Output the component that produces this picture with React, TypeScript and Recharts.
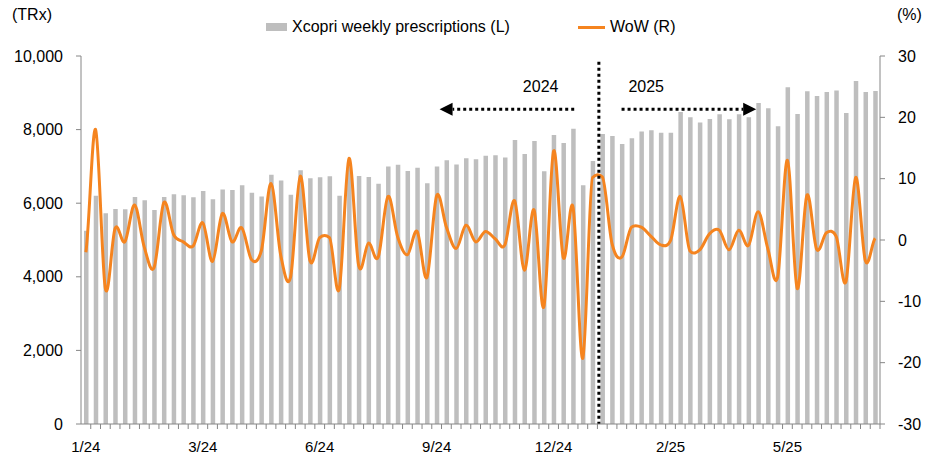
import { ComposedChart, Bar, Line, XAxis, YAxis, ReferenceLine, ReferenceDot } from 'recharts';

// weekly Xcopri TRx, 1/24 .. 7/25
const rx = [
  5250, 6205, 5725, 5840, 5835, 6170, 6080, 5815, 6170, 6240, 6215, 6160, 6330, 6105,
  6375, 6360, 6485, 6285, 6185, 6775, 6620, 6230, 6895, 6675, 6705, 6730, 6205, 7050,
  6740, 6710, 6530, 7000, 7045, 6875, 6965, 6540, 7000, 7165, 7055, 7220, 7195, 7290,
  7300, 7245, 7715, 7335, 7690, 6865, 7855, 7635, 8025, 6485, 7145, 7880, 7825, 7610,
  7765, 7945, 7980, 7915, 7915, 8480, 8335, 8195, 8290, 8415, 8280, 8415, 8335, 8725,
  8580, 8090, 9150, 8425, 9040, 8915, 9020, 9060, 8450, 9320, 9020, 9050,
];

// week over week change, %
const wow = [
  -2.0, 18.0, -7.9, 1.9, -0.3, 5.7, -1.2, -4.5, 6.1, 0.9, -0.3, -1.0, 2.8, -3.5,
  4.3, -0.3, 2.0, -3.2, -1.8, 9.2, -2.5, -6.1, 10.4, -3.4, 0.4, 0.4, -8.0, 13.3,
  -4.2, -0.5, -2.8, 7.1, 0.5, -2.4, 1.4, -6.1, 7.2, 2.1, -1.4, 2.4, -0.3, 1.4,
  0.2, -0.8, 6.4, -4.9, 4.9, -10.9, 14.5, -2.9, 5.3, -19.3, 10.2, 10.3, -0.6, -2.8,
  2.1, 2.1, 0.6, -0.8, -0.1, 7.1, -1.8, -1.6, 1.0, 1.6, -1.6, 1.6, -0.9, 4.6,
  -1.5, -6.0, 13.0, -7.9, 7.3, -1.5, 1.2, 0.6, -6.8, 10.2, -3.4, 0.3,
];

// one label every 12 weeks
const tickLabels = ['1/24', '3/24', '6/24', '9/24', '12/24', '2/25', '5/25'];
const leftTicks = [0, 2000, 4000, 6000, 8000, 10000];
const rightTicks = [-30, -20, -10, 0, 10, 20, 30];

const data = rx.map((v, i) => ({ week: i, rx: v, wow: wow[i] }));

const FONT = '"Liberation Sans", Arial, sans-serif';
const GREY = '#bebebe';
const ORANGE = '#f5841f';
const AXIS = '#868686';

// Excel-like smoothing: Catmull-Rom tangents, softly damped where one side is flat
function excelSmooth(context: any) {
  let pts: number[][] = [];
  return {
    areaStart() {},
    areaEnd() {},
    lineStart() {
      pts = [];
    },
    point(x: number, y: number) {
      pts.push([+x, +y]);
    },
    lineEnd() {
      const n = pts.length;
      if (!n) return;
      const m = pts.map((p, i) => {
        const a = pts[Math.max(i - 1, 0)];
        const b = pts[Math.min(i + 1, n - 1)];
        let t = (b[1] - a[1]) / 2;
        if (i > 0 && i < n - 1) {
          const lim = 3 * Math.min(Math.abs(p[1] - a[1]), Math.abs(b[1] - p[1])) + 8;
          if (Math.abs(t) > lim) t = Math.sign(t) * lim;
        }
        return t;
      });
      context.moveTo(pts[0][0], pts[0][1]);
      for (let i = 0; i < n - 1; i++) {
        const p1 = pts[i];
        const p2 = pts[i + 1];
        const h = (p2[0] - p1[0]) / 3;
        context.bezierCurveTo(p1[0] + h, p1[1] + m[i] / 3, p2[0] - h, p2[1] - m[i + 1] / 3, p2[0], p2[1]);
      }
    },
  };
}

const XTick = (props: any) => {
  const { x, y, payload } = props;
  const half = payload.offset ?? 4.87;
  const i = Number(payload.value);
  const label = i % 12 === 0 ? tickLabels[i / 12] : null;
  return (
    <g>
      <line x1={x + half} x2={x + half} y1={y} y2={y + 5} stroke={AXIS} strokeWidth={1} />
      {label && (
        <text x={x} y={y + 28} textAnchor="middle" fontSize={15} fontFamily={FONT} fill="#000">
          {label}
        </text>
      )}
    </g>
  );
};

const Arrow = (p: any) => {
  const { x1, y1, x2, y2 } = p;
  const dir = Math.sign(x2 - x1);
  const head = 13;
  return (
    <g>
      <line x1={x1} y1={y1} x2={x2 - dir * head} y2={y2} stroke="#000" strokeWidth={3} strokeDasharray="3 3" />
      <polygon
        points={`${x2},${y2} ${x2 - dir * head},${y2 - 6.5} ${x2 - dir * head},${y2 + 6.5}`}
        fill="#000"
      />
    </g>
  );
};

const yearText = (txt: string) => (p: any) => (
  <text x={p.cx} y={p.cy} textAnchor="middle" dominantBaseline="central" fontSize={16} fontFamily={FONT} fill="#000">
    {txt}
  </text>
);

export default function App() {
  return (
    <div style={{ position: 'absolute', left: 0, top: 0, width: 935, height: 462, fontFamily: FONT }}>
      <div style={{ position: 'absolute', left: 12, top: 6, fontSize: 16, lineHeight: '18px' }}>(TRx)</div>
      <div style={{ position: 'absolute', left: 897, top: 6, fontSize: 16, lineHeight: '18px' }}>(%)</div>
      <div style={{ position: 'absolute', left: 266, top: 23, width: 21, height: 8, background: GREY }} />
      <div style={{ position: 'absolute', left: 292, top: 18, fontSize: 16, lineHeight: '18px' }}>
        Xcopri weekly prescriptions (L)
      </div>
      <div style={{ position: 'absolute', left: 578, top: 26, width: 27, height: 3, background: ORANGE }} />
      <div style={{ position: 'absolute', left: 610, top: 18, fontSize: 16, lineHeight: '18px' }}>WoW (R)</div>

      <ComposedChart width={935} height={462} data={data} margin={{ top: 56, right: 0, bottom: 0, left: 0 }}>
        <XAxis
          dataKey="week"
          height={38}
          interval={0}
          tickLine={false}
          tickSize={0}
          tickMargin={0}
          axisLine={{ stroke: AXIS }}
          tick={<XTick />}
        />
        <XAxis xAxisId="ann" type="number" domain={[-0.5, 81.5]} allowDataOverflow hide />
        <YAxis
          yAxisId="left"
          width={81}
          domain={[0, 10000]}
          ticks={leftTicks}
          tickFormatter={(v: number) => v.toLocaleString('en-US')}
          tickSize={5}
          tickMargin={13}
          axisLine={{ stroke: AXIS }}
          tickLine={{ stroke: AXIS }}
          tick={{ fontSize: 16, fill: '#000', fontFamily: FONT }}
        />
        <YAxis
          yAxisId="right"
          orientation="right"
          width={55}
          domain={[-30, 30]}
          ticks={rightTicks}
          tickSize={5}
          tickMargin={13}
          axisLine={{ stroke: AXIS }}
          tickLine={{ stroke: AXIS }}
          tick={{ fontSize: 16, fill: '#000', fontFamily: FONT, textAnchor: 'start' }}
        />
        <Bar yAxisId="left" dataKey="rx" fill={GREY} barSize={4.5} isAnimationActive={false} />
        <Line
          yAxisId="right"
          dataKey="wow"
          type={excelSmooth as any}
          stroke={ORANGE}
          strokeWidth={3}
          dot={false}
          isAnimationActive={false}
        />
        <ReferenceLine
          xAxisId="ann"
          yAxisId="left"
          segment={[{ x: 52.5, y: 9845 }, { x: 52.5, y: 0 }]}
          stroke="#000"
          strokeWidth={3}
          strokeDasharray="3 3"
          ifOverflow="visible"
        />
        <ReferenceLine
          xAxisId="ann"
          yAxisId="left"
          segment={[{ x: 50, y: 8550 }, { x: 36.35, y: 8550 }]}
          shape={Arrow}
          ifOverflow="visible"
        />
        <ReferenceLine
          xAxisId="ann"
          yAxisId="left"
          segment={[{ x: 54.8, y: 8550 }, { x: 68.45, y: 8550 }]}
          shape={Arrow}
          ifOverflow="visible"
        />
        <ReferenceDot xAxisId="ann" yAxisId="left" x={46.6} y={9158} r={0} shape={yearText('2024')} />
        <ReferenceDot xAxisId="ann" yAxisId="left" x={57.3} y={9158} r={0} shape={yearText('2025')} />
      </ComposedChart>
    </div>
  );
}
